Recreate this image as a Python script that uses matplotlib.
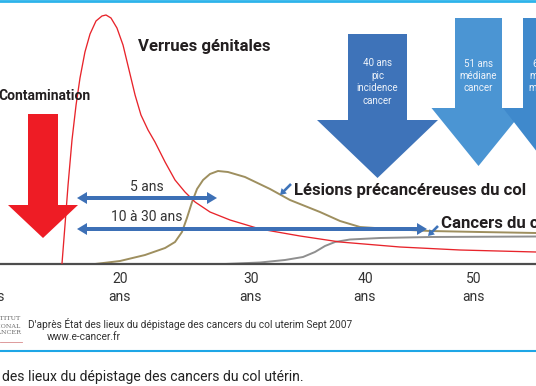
import numpy as np
import matplotlib
matplotlib.use("Agg")
import matplotlib.pyplot as plt
from matplotlib.patches import FancyArrow

plt.rcParams['font.family'] = ['Roboto', 'DejaVu Sans']

# ---------------- data ----------------
tick_ages = [10, 20, 30, 40, 50]
tick_labels = ["10\nans", "20\nans", "30\nans", "40\nans", "50\nans"]

# Verrues génitales (red curve), age -> relative intensity
verrues_age = [15.43, 15.67, 15.91, 16.22, 16.54, 16.85, 17.24, 17.64, 18.11, 18.58,
               18.90, 19.29, 19.76, 20.23, 20.69, 21.15, 21.60, 22.14, 22.67, 23.44,
               24.20, 24.96, 25.73, 26.87, 28.40, 30.79, 34.30, 37.81, 43.21, 48.72,
               55.85]
verrues_val = [0, 39, 79, 124, 159, 186, 212, 230, 243, 248,
               249, 246, 236, 219, 194, 169, 149, 134, 122, 102,
               84, 72, 62, 52, 44, 35, 28, 22, 17, 14,
               12]

# Lésions précancéreuses du col (olive curve)
lesions_age = [18.03, 20.00, 21.91, 23.44, 24.20, 24.73, 25.11, 25.50, 25.88, 26.34,
               26.87, 27.48, 28.24, 29.54, 31.67, 33.42, 36.05, 37.81, 39.56, 42.29,
               45.96, 50.57, 55.85]
lesions_val = [0, 3, 9, 16, 22, 32, 46, 62, 75, 84,
               90, 93, 92, 87, 75, 64, 52, 43, 37, 35,
               33, 32, 31]

# Cancers du col (grey curve)
cancer_age = [28.02, 30.79, 32.98, 34.56, 35.61, 36.49, 37.37, 38.68, 41.38, 45.96, 55.85]
cancer_val = [0, 1.5, 4, 7, 12, 18, 22, 24.5, 26, 27, 27.5]

big_arrow_labels = ["40 ans\npic\nincidence\ncancer",
                    "51 ans\nmédiane\ncancer",
                    "64 ans\nmédiane\nmortalité"]
interval_labels = ["5 ans", "10 à 30 ans"]
curve_labels = ["Verrues génitales", "Lésions précancéreuses du col", "Cancers du col"]
contamination_label = "Contamination"
source_line1 = "D'après État des lieux du dépistage des cancers du col uterim Sept 2007"
source_line2 = "www.e-cancer.fr"
logo_lines = ["INSTITUT", "NATIONAL", "DU CANCER"]
caption = "des lieux du dépistage des cancers du col utérin."

# ---------------- layout ----------------
W, H = 536, 386
BASE = 264  # baseline, pixels from top
anchor_ages = [0, 10, 20, 30, 40, 50, 60]
anchor_px = [-134, -7, 120, 251, 365, 474, 580]


def fwd(a):
    return np.interp(a, anchor_ages, anchor_px)


def inv(p):
    return np.interp(p, anchor_px, anchor_ages)


fig = plt.figure(figsize=(W / 100, H / 100), dpi=100)
fig.patch.set_facecolor("white")

# data axes: extended horizontally beyond the figure so the '10 ans' tick exists
ext = 30
ax = fig.add_axes([-ext / W, (H - BASE) / H, (W + 2 * ext) / W, BASE / H])
ax.set_xscale('function', functions=(fwd, inv))
ax.set_xlim(inv(-ext), inv(W + ext))
ax.set_ylim(0, BASE)
ax.patch.set_visible(False)
for s in ["top", "left", "right"]:
    ax.spines[s].set_visible(False)
ax.spines["bottom"].set_color("#4d4d4d")
ax.spines["bottom"].set_linewidth(1.6)
ax.set_yticks([])
ax.set_xticks(tick_ages, tick_labels)
ax.xaxis.set_minor_locator(matplotlib.ticker.NullLocator())
ax.tick_params(axis='x', length=0, pad=6, labelsize=10, labelcolor="#333333")
for lab in ax.get_xticklabels():
    lab.set_linespacing(1.35)

ax.plot(verrues_age, verrues_val, color="#e8242b", lw=0.95, zorder=3)
ax.plot(lesions_age, lesions_val, color="#9e8f5f", lw=1.4, zorder=2)
ax.plot(cancer_age, cancer_val, color="#8f8f8f", lw=1.4, zorder=2)

# overlay axes in pixel coordinates for annotations
ov = fig.add_axes([0, 0, 1, 1])
ov.set_xlim(0, W)
ov.set_ylim(H, 0)
ov.axis("off")


def varrow(cx, top, tip, shaft_w, head_w, head_len, color, z=2):
    ov.add_patch(FancyArrow(cx, top, 0, tip - top, width=shaft_w, head_width=head_w,
                            head_length=head_len, length_includes_head=True,
                            color=color, lw=0, zorder=z))


def harrow2(x0, x1, y, color):
    mid = (x0 + x1) / 2
    for end in (x0, x1):
        ov.add_patch(FancyArrow(mid, y, end - mid, 0, width=4, head_width=12,
                                head_length=10, length_includes_head=True,
                                color=color, lw=0, zorder=4))


def small_arrow(x_tail, y_tail, x_tip, y_tip, color):
    ov.add_patch(FancyArrow(x_tail, y_tail, x_tip - x_tail, y_tip - y_tail, width=2.6,
                            head_width=7.5, head_length=6, length_includes_head=True,
                            color=color, lw=0, zorder=4))


# top / bottom frame lines
ov.axhline(1.3, color="#2db3ea", lw=2.0)
ov.axhline(351, color="#1ea6e6", lw=1.5)

# red contamination arrow
varrow(43, 114, 238, 30, 70, 33, "#ee1c25", z=2)
ov.text(-2, 96, contamination_label, ha="left", va="center", fontsize=10,
        fontweight="bold", color="#231f20")

# blue big arrows
varrow(377.5, 34, 178, 59, 121, 58, "#3e73b9")
varrow(478.5, 18, 166, 47, 94, 58, "#4b95d3")
varrow(548, 18, 166, 50, 90, 58, "#3f89cc")
arrow_text_x = [377.5, 478.5, 548]
arrow_text_y = [82, 76, 76]
for x, y, s in zip(arrow_text_x, arrow_text_y, big_arrow_labels):
    ov.text(x, y, s, ha="center", va="center", fontsize=7, color="#eef3fa",
            linespacing=1.3, zorder=5)

# curve labels
ov.text(138, 46, curve_labels[0], ha="left", va="center", fontsize=12.1,
        fontweight="bold", color="#231f20")
ov.text(294, 190, curve_labels[1], ha="left", va="center", fontsize=12.1,
        fontweight="bold", color="#231f20")
ov.text(441, 223, curve_labels[2], ha="left", va="center", fontsize=12.1,
        fontweight="bold", color="#231f20")
small_arrow(291, 184, 280, 195, "#3e73b9")
small_arrow(438, 226, 428, 236, "#3e73b9")

# interval arrows
harrow2(77, 217, 198, "#3d70b6")
harrow2(77, 427, 229, "#3d70b6")
ov.text(147, 187, interval_labels[0], ha="center", va="center", fontsize=10,
        color="#333333")
ov.text(147, 217, interval_labels[1], ha="center", va="center", fontsize=10,
        color="#333333")

# source + logo
ov.text(28, 324, source_line1, ha="left", va="center", fontsize=7.3, color="#333333")
ov.text(47, 337, source_line2, ha="left", va="center", fontsize=7.3, color="#333333")
for y, s in zip([318, 326, 333], logo_lines):
    ov.text(21, y, s, ha="right", va="center", fontsize=4.6, color="#6d6d6d",
            family="DejaVu Serif")
ov.plot([0, 22], [342, 342], color="#d88a8c", lw=0.6)

# caption
ov.text(2, 377, caption, ha="left", va="center", fontsize=10.1, color="#222222")

fig.savefig("out.png", dpi=100)
